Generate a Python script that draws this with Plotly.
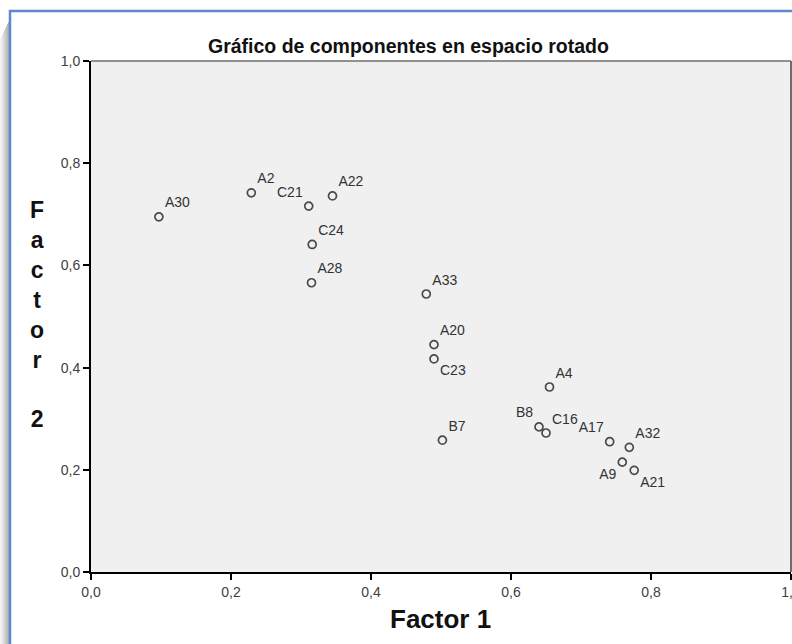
import plotly.graph_objects as go

# ---- data ----
labels = ["A30", "A2", "C21", "A22", "C24", "A28", "A33", "A20", "C23",
          "A4", "B7", "B8", "C16", "A17", "A32", "A9", "A21"]
factor1 = [0.097, 0.229, 0.311, 0.345, 0.316, 0.315, 0.479, 0.490, 0.490,
           0.655, 0.502, 0.640, 0.650, 0.741, 0.769, 0.759, 0.776]
factor2 = [0.695, 0.742, 0.716, 0.736, 0.641, 0.566, 0.544, 0.445, 0.417,
           0.362, 0.258, 0.284, 0.272, 0.255, 0.244, 0.215, 0.199]
label_pos = ["top right", "top right", "top left", "top right", "top right",
             "top right", "top right", "top right", "bottom right", "top right",
             "top right", "top left", "top right", "top left", "top right",
             "bottom left", "bottom right"]
tick_vals = [0.0, 0.2, 0.4, 0.6, 0.8, 1.0]
tick_text = ["0,0", "0,2", "0,4", "0,6", "0,8", "1,0"]

W, H = 792, 644
L, R, T, B = 91, 1, 61, 72
PW, PH = W - L - R, H - T - B


def px(x):
    return (x - L) / PW


def py(y):
    return (H - B - y) / PH


FONT = "Liberation Sans, Arial, sans-serif"

fig = go.Figure()
fig.add_trace(go.Scatter(
    x=factor1, y=factor2, mode="markers+text", text=labels,
    textposition=label_pos,
    textfont=dict(family=FONT, size=14, color="#333333"),
    marker=dict(symbol="circle-open", size=8, color="#4a4a4a",
                line=dict(width=1.7, color="#4a4a4a")),
    cliponaxis=False, hoverinfo="skip", showlegend=False,
))

shapes = []
# window shadow on left
shadow_cols = ["#f4f4f4", "#eeeeee", "#e6e6e6", "#dddddd", "#d4d4d4",
               "#cbcbcb", "#c2c2c2", "#b9b9b9", "#b0b0b0"]
for i, c in enumerate(shadow_cols):
    shapes.append(dict(type="rect", xref="paper", yref="paper",
                       x0=px(i), x1=px(i + 1), y0=py(H), y1=py(22 + (8 - i) * 2),
                       fillcolor=c, line=dict(width=0), layer="above"))
# blue frame lines
shapes.append(dict(type="line", xref="paper", yref="paper",
                   x0=px(10), x1=px(10), y0=py(10), y1=py(H),
                   line=dict(color="#5b8cc8", width=2.5)))
shapes.append(dict(type="line", xref="paper", yref="paper",
                   x0=px(9), x1=px(W), y0=py(11), y1=py(11),
                   line=dict(color="#5b8cc8", width=2.5)))
# top and right plot border (gray)
shapes.append(dict(type="line", xref="paper", yref="paper",
                   x0=0, x1=1, y0=1, y1=1, line=dict(color="#6e6e6e", width=1.5)))
shapes.append(dict(type="line", xref="paper", yref="paper",
                   x0=1, x1=1, y0=0, y1=1, line=dict(color="#6e6e6e", width=2)))

annotations = [
    dict(text="<b>Gráfico de componentes en espacio rotado</b>", xref="paper",
         yref="paper", x=px(408), y=py(46), showarrow=False,
         font=dict(family=FONT, size=19.5, color="#111111"),
         xanchor="center", yanchor="middle"),
    dict(text="<b>Factor 1</b>", xref="paper", yref="paper",
         x=px(440), y=py(619), showarrow=False,
         font=dict(family=FONT, size=26, color="#111111"),
         xanchor="center", yanchor="middle"),
    dict(text="<b>F<br>a<br>c<br>t<br>o<br>r<br> <br>2</b>", xref="paper",
         yref="paper", x=px(37), y=py(314), showarrow=False,
         font=dict(family=FONT, size=23, color="#111111"),
         xanchor="center", yanchor="middle", align="center"),
]

axis_common = dict(
    tickmode="array", tickvals=tick_vals, ticktext=tick_text,
    showgrid=False, zeroline=False, showline=True, linecolor="#000000",
    linewidth=2, ticks="outside", ticklen=6, tickwidth=1.5, tickcolor="#000000",
    tickfont=dict(family=FONT, size=14, color="#404040"),
    range=[0, 1], fixedrange=True, ticklabeloverflow="allow", automargin=False,
)

fig.update_layout(
    width=W, height=H,
    margin=dict(l=L, r=R, t=T, b=B, pad=0, autoexpand=False),
    paper_bgcolor="#ffffff", plot_bgcolor="#f0f0f0",
    xaxis=dict(**axis_common),
    yaxis=dict(**axis_common),
    shapes=shapes, annotations=annotations,
)

fig.write_html("out.html")
